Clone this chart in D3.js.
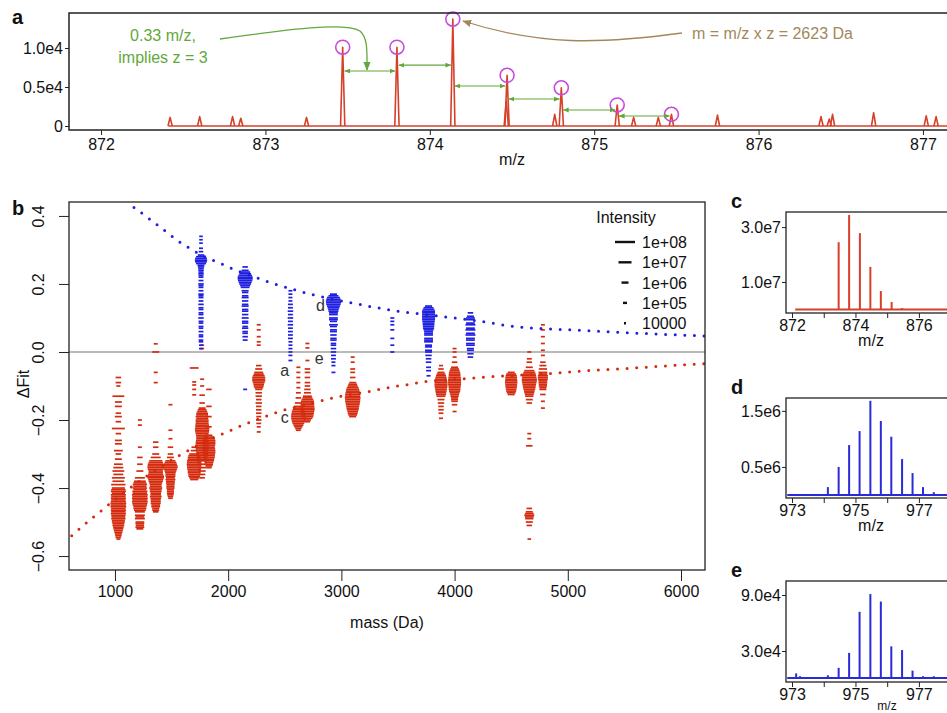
<!DOCTYPE html>
<html><head><meta charset="utf-8">
<script src="https://cdn.jsdelivr.net/npm/d3@7"></script>
<style>body{margin:0;background:#fff}svg{display:block;font-family:"Liberation Sans",Arial,sans-serif}</style>
</head><body><svg id="chart" width="947" height="713"></svg>
<script>
// ---------- Panel a: spectrum peaks [m/z, intensity]
const aPeaks = [[872.42,1100],[872.60,1200],[872.80,1200],[872.85,1000],[873.25,1100],
  [873.47,10100],[873.80,10100],[874.14,13700],[874.465,3200],[874.47,6500],[874.76,1500],[874.80,4900],
  [875.14,2700],[875.24,1100],[875.39,1100],[875.47,1500],[875.75,1400],[876.38,1200],[876.43,900],
  [876.45,1500],[876.70,1700],[877.02,1300],[877.08,1200]];
const aCircled = [[873.47,10100],[873.80,10100],[874.14,13700],[874.47,6500],[874.80,4900],[875.14,2700],[875.47,1500]];
// spacing arrows: [from m/z, to m/z, height]
const aSpacing = [[873.47,873.80,7050],[873.80,874.14,7800],[874.14,874.47,5130],[874.47,874.80,3460],[874.80,875.14,2050],[875.14,875.47,1280]];
const aXTicks = [872,873,874,875,876,877];
const aYTicks = [0,5000,10000];
const aYLabels = ["0","0.5e4","1.0e4"];

// ---------- Panel b: fitted curves [mass, dFit]
const blueFit = [[1168,0.425],[1250,0.405],[1329,0.385],[1409,0.365],[1488,0.344],[1568,0.324],[1650,0.307],[1735,0.290],[1823,0.275],[1918,0.263],[2009,0.249],[2289,0.214],[2383,0.203],[2480,0.193],[2574,0.184],[2671,0.175],[2765,0.167],[3060,0.146],[3162,0.140],[3260,0.133],[3359,0.128],[3456,0.122],[3648,0.114],[4251,0.089],[4545,0.074],[4751,0.069],[5045,0.065],[5340,0.060],[5634,0.055],[6134,0.048],[6212,0.047]];
const redFit = [[618,-0.540],[697,-0.517],[773,-0.495],[853,-0.474],[929,-0.453],[1574,-0.303],[1941,-0.242],[2035,-0.229],[2126,-0.215],[2221,-0.203],[2309,-0.192],[2397,-0.181],[2794,-0.146],[2889,-0.138],[2986,-0.131],[3280,-0.114],[3383,-0.107],[3480,-0.101],[3574,-0.097],[3677,-0.090],[4162,-0.077],[4265,-0.074],[4868,-0.063],[5162,-0.055],[5457,-0.050],[5766,-0.043],[6163,-0.035],[6212,-0.034]];
// clusters: [mass, [[dFit, log10 intensity], ...]]
const redClusters = [
 [1030,[[-0.075,5.5],[-0.09,5.5],[-0.10,5],[-0.13,6.8],[-0.147,6],[-0.16,6],[-0.18,5.5],[-0.19,6],[-0.205,5.5],[-0.225,7],[-0.24,5.5],[-0.26,6],[-0.27,6],[-0.29,6.3],[-0.30,5.5],[-0.315,6],[-0.33,6.3],[-0.34,6.5],[-0.35,6.8],[-0.36,6.5],[-0.37,7],[-0.38,6.8],[-0.39,7.2],[-0.40,7],[-0.405,7.2],[-0.41,7.3],[-0.415,7],[-0.42,7.3],[-0.425,7.2],[-0.43,7.3],[-0.435,7.2],[-0.44,7.3],[-0.445,7.4],[-0.45,7.3],[-0.455,7.4],[-0.46,7.2],[-0.465,7.3],[-0.47,7.2],[-0.475,7.3],[-0.48,7.2],[-0.485,7.1],[-0.49,7.2],[-0.495,7],[-0.50,7],[-0.505,6.8],[-0.51,6.8],[-0.515,6.6],[-0.52,6.5],[-0.525,6.3],[-0.53,6.2],[-0.535,6],[-0.54,5.8],[-0.545,5.5],[-0.55,5]]],
 [1220,[[-0.20,5],[-0.215,5],[-0.28,5],[-0.31,5.5],[-0.33,5.5],[-0.35,6],[-0.37,6.5],[-0.38,6.8],[-0.385,7],[-0.39,7.2],[-0.395,7],[-0.40,7.2],[-0.405,7],[-0.41,7.3],[-0.415,7.2],[-0.42,7.4],[-0.425,7.3],[-0.43,7.4],[-0.435,7.3],[-0.44,7.4],[-0.445,7.3],[-0.45,7.2],[-0.455,7],[-0.46,7],[-0.465,6.8],[-0.47,6.5],[-0.48,6.5],[-0.485,6.3],[-0.49,6.5],[-0.50,6.3],[-0.505,6.3],[-0.51,6.2],[-0.515,6.3],[-0.52,6]]],
 [1360,[[0.024,5],[0.0,6],[-0.06,5],[-0.09,5],[-0.265,5.5],[-0.28,5.5],[-0.30,6],[-0.31,6.5],[-0.32,7],[-0.325,7.2],[-0.33,7.4],[-0.335,7.5],[-0.34,7.5],[-0.345,7.4],[-0.35,7.2],[-0.355,7.2],[-0.36,7.3],[-0.365,7.5],[-0.37,7.5],[-0.375,7.3],[-0.38,7.2],[-0.385,7],[-0.39,6.8],[-0.395,6.8],[-0.40,7],[-0.405,6.8],[-0.41,6.8],[-0.415,6.6],[-0.42,6.6],[-0.425,6.8],[-0.43,6.6],[-0.435,6.5],[-0.44,6.5],[-0.445,6.5],[-0.45,6.3],[-0.455,6.3],[-0.46,6],[-0.465,6],[-0.47,5.5]]],
 [1490,[[-0.155,5],[-0.23,5],[-0.255,5],[-0.28,5.5],[-0.30,5.5],[-0.31,6],[-0.32,6.5],[-0.325,6.8],[-0.33,7],[-0.335,7.2],[-0.34,7.2],[-0.345,7],[-0.35,6.8],[-0.355,6.6],[-0.36,6.5],[-0.365,6.5],[-0.37,6.3],[-0.375,6.5],[-0.38,6.3],[-0.385,6.3],[-0.39,6.2],[-0.395,6.2],[-0.40,6.2],[-0.405,6],[-0.41,6],[-0.415,6],[-0.42,5.8],[-0.425,5.5],[-0.43,5.2]]],
 [1700,[[-0.047,6.3],[-0.088,5],[-0.097,5],[-0.11,5],[-0.126,5],[-0.28,5.5],[-0.29,6],[-0.30,6.5],[-0.305,6.8],[-0.31,7],[-0.315,7],[-0.32,7.2],[-0.325,7.2],[-0.33,7.3],[-0.335,7.2],[-0.34,7.2],[-0.345,7.1],[-0.35,7],[-0.355,7],[-0.36,6.8],[-0.365,6.8],[-0.37,6.5],[-0.375,6.2]]],
 [1770,[[0.02,5],[0.01,5],[-0.08,5],[-0.10,5],[-0.127,5.5],[-0.15,5.5],[-0.165,6],[-0.17,6.3],[-0.175,6.5],[-0.18,6.8],[-0.185,6.8],[-0.19,7],[-0.195,6.8],[-0.20,7],[-0.205,7],[-0.21,7],[-0.215,7.1],[-0.22,7.1],[-0.225,7.2],[-0.23,7.2],[-0.235,7.1],[-0.24,7],[-0.245,6.9],[-0.25,6.8],[-0.255,6.8],[-0.26,6.9],[-0.265,7],[-0.27,7],[-0.275,7.1],[-0.28,7.1],[-0.285,7],[-0.29,6.9],[-0.295,6.8],[-0.30,6.8],[-0.305,6.7],[-0.31,6.6],[-0.315,6.5],[-0.32,6.5],[-0.33,6.3],[-0.34,6.2],[-0.35,6],[-0.36,5.8],[-0.37,5.5]]],
 [1830,[[-0.11,5.5],[-0.16,5.5],[-0.19,5.5],[-0.22,5.5],[-0.245,6],[-0.25,6.5],[-0.255,6.8],[-0.26,7],[-0.265,7],[-0.27,7],[-0.275,6.9],[-0.28,6.8],[-0.285,6.9],[-0.29,7],[-0.295,7],[-0.30,6.9],[-0.305,6.8],[-0.31,6.8],[-0.315,6.6],[-0.32,6.5],[-0.325,6.3],[-0.33,6.2],[-0.335,6],[-0.34,5.5]]],
 [2270,[[0.08,5],[0.065,5],[0.045,5],[0.03,5],[0.02,5],[-0.04,5.5],[-0.05,6],[-0.06,6.3],[-0.065,6.5],[-0.07,6.8],[-0.075,7],[-0.08,7],[-0.085,7],[-0.09,6.8],[-0.095,6.6],[-0.10,6.5],[-0.105,6.3],[-0.11,6],[-0.12,5.8],[-0.13,5.8],[-0.14,5.5],[-0.15,5.8],[-0.16,5.5],[-0.17,5.5],[-0.18,5.5],[-0.19,5.3],[-0.20,5.5],[-0.21,5.3],[-0.22,5],[-0.235,5]]],
 [2620,[[-0.045,5],[-0.06,5],[-0.075,5],[-0.09,5],[-0.105,5],[-0.12,5.3],[-0.135,5.5],[-0.15,6],[-0.16,6.3],[-0.165,6.5],[-0.17,6.8],[-0.175,7],[-0.18,7.1],[-0.185,7.2],[-0.19,7.2],[-0.195,7.2],[-0.20,7.1],[-0.205,7],[-0.21,6.8],[-0.215,6.5],[-0.22,6.2],[-0.225,5.8],[-0.23,5.3]]],
 [2700,[[0.025,5],[0.012,5],[-0.025,5],[-0.05,5.5],[-0.06,5.5],[-0.075,5.5],[-0.09,5.5],[-0.10,5.5],[-0.11,5.8],[-0.12,6],[-0.13,6.3],[-0.135,6.5],[-0.14,6.8],[-0.145,7],[-0.15,7],[-0.155,7.1],[-0.16,7.1],[-0.165,7.2],[-0.17,7.2],[-0.175,7.1],[-0.18,7],[-0.185,6.9],[-0.19,6.8],[-0.195,6.5],[-0.20,6],[-0.205,5.5]]],
 [3100,[[-0.015,5],[-0.03,5],[-0.05,5.3],[-0.06,5.3],[-0.075,5.5],[-0.09,6],[-0.095,6.3],[-0.10,6.5],[-0.105,6.8],[-0.11,7],[-0.115,7.1],[-0.12,7.2],[-0.125,7.3],[-0.13,7.3],[-0.135,7.4],[-0.14,7.3],[-0.145,7.3],[-0.15,7.2],[-0.155,7.1],[-0.16,7],[-0.165,6.9],[-0.17,6.8],[-0.175,6.6],[-0.18,6.5],[-0.185,6.3],[-0.19,6]]],
 [3880,[[-0.04,5],[-0.05,5.5],[-0.06,6],[-0.065,6.3],[-0.07,6.5],[-0.075,6.7],[-0.08,6.8],[-0.085,6.9],[-0.09,7],[-0.095,7],[-0.10,7],[-0.105,6.9],[-0.11,6.8],[-0.115,6.7],[-0.12,6.6],[-0.125,6.5],[-0.13,6.3],[-0.14,6],[-0.15,5.8],[-0.16,5.5],[-0.17,5.5],[-0.18,5.3],[-0.195,5]]],
 [4000,[[0.01,5],[0.0,5],[-0.015,5],[-0.03,5.5],[-0.045,6],[-0.05,6.3],[-0.055,6.5],[-0.06,6.7],[-0.065,6.8],[-0.07,6.8],[-0.075,6.9],[-0.08,7],[-0.085,7],[-0.09,7],[-0.095,7],[-0.10,6.9],[-0.105,6.8],[-0.11,6.8],[-0.115,6.7],[-0.12,6.5],[-0.125,6.3],[-0.13,6.2],[-0.135,6],[-0.14,6],[-0.145,5.8],[-0.155,5.5],[-0.175,5]]],
 [4500,[[-0.06,6],[-0.065,6.5],[-0.07,6.7],[-0.075,6.8],[-0.08,6.8],[-0.085,6.9],[-0.09,6.9],[-0.095,6.8],[-0.10,6.8],[-0.105,6.7],[-0.11,6.6],[-0.115,6.5],[-0.12,6.3],[-0.125,6]]],
 [4660,[[0.0,5],[-0.02,5.3],[-0.03,5.5],[-0.045,6],[-0.055,6.5],[-0.06,6.8],[-0.065,7],[-0.07,7.1],[-0.075,7.2],[-0.08,7.3],[-0.085,7.3],[-0.09,7.2],[-0.095,7.1],[-0.10,7],[-0.105,6.9],[-0.11,6.8],[-0.115,6.6],[-0.12,6.5],[-0.125,6.3],[-0.13,6.2],[-0.14,6],[-0.15,5.5],[-0.24,5],[-0.255,5],[-0.276,5.8],[-0.46,5.5],[-0.47,6],[-0.475,6.3],[-0.48,6.5],[-0.485,6.3],[-0.49,6.2],[-0.50,6],[-0.51,5.5],[-0.55,4.8]]],
 [4780,[[0.08,5],[0.065,5],[0.045,5],[0.025,5],[0.005,5],[-0.01,5],[-0.03,5.5],[-0.04,6],[-0.05,6.2],[-0.06,6.3],[-0.065,6.3],[-0.07,6.5],[-0.075,6.5],[-0.08,6.5],[-0.085,6.3],[-0.09,6.3],[-0.095,6.2],[-0.10,6.2],[-0.105,6],[-0.11,6],[-0.125,5.5],[-0.145,5],[-0.165,5]]]
];
const blueClusters = [
 [1760,[[0.34,4.8],[0.33,4.8],[0.32,4.8],[0.305,5],[0.295,5.2],[0.285,5.8],[0.28,6.5],[0.275,6.8],[0.27,6.9],[0.265,6.8],[0.26,6.5],[0.255,6],[0.25,5.8],[0.245,5.5],[0.24,5.5],[0.235,5.3],[0.23,5.5],[0.225,5.3],[0.22,5.3],[0.21,5.3],[0.20,5.5],[0.195,5.3],[0.19,5.3],[0.18,5.3],[0.17,5.5],[0.165,5.3],[0.16,5.3],[0.15,5.3],[0.14,5.5],[0.13,5.3],[0.125,5.3],[0.115,5.3],[0.11,5.3],[0.10,5.5],[0.09,5.3],[0.085,5.2],[0.075,5.3],[0.07,5.2],[0.06,5.3],[0.05,5.2],[0.045,5.2],[0.035,5.2],[0.03,5.2],[0.02,5],[0.01,5]]],
 [2150,[[0.25,5.5],[0.24,6],[0.235,6.5],[0.23,6.8],[0.225,7.1],[0.22,7.3],[0.215,7.3],[0.21,7.2],[0.205,7],[0.20,6.8],[0.195,6.5],[0.19,6.3],[0.18,6],[0.175,5.8],[0.165,5.8],[0.16,6],[0.15,5.8],[0.14,5.8],[0.135,6],[0.125,5.8],[0.12,5.8],[0.11,5.8],[0.10,6],[0.09,5.8],[0.085,5.8],[0.075,5.5],[0.07,5.8],[0.06,5.5],[0.055,5.5],[0.045,5.5],[0.035,5.3],[-0.11,5]]],
 [2550,[[0.18,5],[0.17,5],[0.16,5],[0.15,5],[0.14,5.3],[0.13,5.3],[0.12,5.5],[0.11,5.3],[0.10,5.5],[0.09,5.3],[0.08,5.5],[0.07,5.3],[0.06,5.3],[0.05,5.3],[0.04,5.3],[0.03,5],[0.02,5],[0.01,5],[0.0,5],[-0.01,5],[-0.025,5]]],
 [2930,[[0.17,6],[0.165,6.5],[0.16,7],[0.155,7.2],[0.15,7.3],[0.145,7.3],[0.14,7.2],[0.135,7],[0.13,6.8],[0.125,6.6],[0.12,6.5],[0.115,6.3],[0.11,6.3],[0.10,6.3],[0.095,6.3],[0.09,6],[0.08,6.3],[0.075,6],[0.065,6],[0.06,6],[0.05,5.8],[0.04,5.8],[0.035,5.8],[0.025,5.5],[0.02,5.5],[0.01,5.5],[0.0,5.5],[-0.01,5.3],[-0.02,5.3],[-0.03,5],[-0.04,5],[-0.06,5]]],
 [3450,[[0.10,5],[0.09,5],[0.08,5],[0.065,5],[0.04,5],[0.02,5],[0.0,5]]],
 [3770,[[0.135,6],[0.13,6.5],[0.125,6.8],[0.12,7],[0.115,7],[0.11,7],[0.105,7],[0.10,7],[0.095,7],[0.09,6.9],[0.085,6.8],[0.08,6.8],[0.075,6.7],[0.07,6.7],[0.065,6.5],[0.06,6.3],[0.055,6.3],[0.05,6.3],[0.04,6.3],[0.035,6.3],[0.03,6.3],[0.02,6],[0.015,6],[0.005,6],[0.0,6],[-0.01,5.8],[-0.02,5.5],[-0.03,5.5],[-0.045,5.3],[-0.055,5.3],[-0.07,5]]],
 [4140,[[0.115,5.5],[0.105,6],[0.10,6.3],[0.095,6.3],[0.085,6.3],[0.08,6.5],[0.07,6.3],[0.065,6.5],[0.055,6.3],[0.05,6.5],[0.04,6.3],[0.035,6.3],[0.025,6.3],[0.02,6.3],[0.01,6],[0.005,6],[-0.005,5.8],[-0.015,5.5]]]
];
const bXTicks = [1000,2000,3000,4000,5000,6000];
const bYTicks = [-0.6,-0.4,-0.2,0.0,0.2,0.4];
const bYLabels = ["\u22120.6","\u22120.4","\u22120.2","0.0","0.2","0.4"];
const legendLevels = [8,7,6,5,4];
const legendLabels = ["1e+08","1e+07","1e+06","1e+05","10000"];
const bNotes = [["d",2815,0.135],["e",2805,-0.02],["a",2500,-0.055],["c",2500,-0.195]];

// ---------- Panels c, d, e: stick spectra [m/z, intensity]
const cPeaks = [[873.47,2.45e7],[873.80,3.44e7],[874.14,2.78e7],[874.47,1.55e7],[874.80,0.67e7],[875.14,0.27e7],[875.47,0.05e7]];
const dPeaks = [[974.13,0.14e6],[974.47,0.50e6],[974.80,0.89e6],[975.13,1.14e6],[975.47,1.68e6],[975.80,1.32e6],[976.13,1.04e6],[976.47,0.64e6],[976.80,0.39e6],[977.13,0.14e6],[977.47,0.05e6]];
const ePeaks = [[973.13,0.6e4],[973.25,0.3e4],[973.80,0.2e4],[974.13,0.4e4],[974.47,1.2e4],[974.80,2.8e4],[975.13,7.2e4],[975.47,9.1e4],[975.80,8.3e4],[976.13,3.5e4],[976.47,3.1e4],[976.80,0.9e4],[977.13,0.3e4],[977.47,0.3e4],[977.80,0.2e4]];
const cXTicks = [872,873,874,875,876,877], cXLabels = ["872","","874","","876",""];
const deXTicks = [973,974,975,976,977,978], deXLabels = ["973","","975","","977",""];
const cYTicks = [1e7,3e7], cYLabels = ["1.0e7","3.0e7"];
const dYTicks = [0.5e6,1.5e6], dYLabels = ["0.5e6","1.5e6"];
const eYTicks = [3e4,9e4], eYLabels = ["3.0e4","9.0e4"];

// ---------- drawing
const RED = "#d42b0e", BLUE = "#1f1fe0", SPEC_RED = "#d6402a", SPEC_BLUE = "#2a2ad8";
const GREEN = "#63a83b", BROWN = "#a3875a", MAG = "#c84ae0";
const svg = d3.select("#chart");
const FS = 16;
const defs = svg.append("defs");
function marker(id, color, size){
  defs.append("marker").attr("id",id).attr("viewBox","0 0 10 10").attr("refX",9).attr("refY",5)
    .attr("markerWidth",size).attr("markerHeight",size).attr("orient","auto-start-reverse")
    .append("path").attr("d","M0,1 L10,5 L0,9 z").attr("fill",color);
}
marker("gArr", GREEN, 5); marker("gArrBig", GREEN, 7); marker("bArr", BROWN, 7);

function styleAxis(g){ g.select(".domain").remove(); g.selectAll("line").attr("stroke","#222"); g.selectAll("text").attr("font-size",FS).attr("fill","#111").attr("font-family","Liberation Sans, Arial, sans-serif"); }
function frame(x0,y0,x1,y1,w){ svg.append("rect").attr("x",x0).attr("y",y0).attr("width",x1-x0).attr("height",y1-y0).attr("fill","none").attr("stroke","#222").attr("stroke-width",w||1.3); }
function panelLetter(t,x,y){ svg.append("text").attr("x",x).attr("y",y).attr("font-size",20).attr("font-weight","bold").attr("fill","#111").text(t); }

// ===== Panel a
const xA = d3.scaleLinear([871.805,877.195],[69,955]);
const yA = d3.scaleLinear([-513,14487],[130,13]);
const gA = svg.append("g");
gA.append("line").attr("x1",xA(872.41)).attr("x2",955).attr("y1",yA(0)).attr("y2",yA(0)).attr("stroke",SPEC_RED).attr("stroke-width",1.5);
gA.selectAll("path.pk").data(aPeaks).join("path").attr("class","pk")
  .attr("d",d=>`M${xA(d[0]-0.013)},${yA(0)} L${xA(d[0])},${yA(d[1])} L${xA(d[0]+0.013)},${yA(0)}`)
  .attr("fill","none").attr("stroke",SPEC_RED).attr("stroke-width",1.6).attr("stroke-linejoin","round");
gA.selectAll("circle").data(aCircled).join("circle").attr("cx",d=>xA(d[0])).attr("cy",d=>yA(d[1])).attr("r",7)
  .attr("fill","none").attr("stroke",MAG).attr("stroke-width",1.6);
gA.selectAll("line.sp").data(aSpacing).join("line").attr("class","sp")
  .attr("x1",d=>xA(d[0])+2).attr("x2",d=>xA(d[1])-2).attr("y1",d=>yA(d[2])).attr("y2",d=>yA(d[2]))
  .attr("stroke",GREEN).attr("stroke-width",1.2).attr("marker-start","url(#gArr)").attr("marker-end","url(#gArr)");
svg.append("g").attr("transform","translate(69,0)").call(d3.axisLeft(yA).tickValues(aYTicks).tickFormat((d,i)=>aYLabels[i]).tickSize(4).tickPadding(2)).call(styleAxis);
svg.append("g").attr("transform","translate(0,130)").call(d3.axisBottom(xA).tickValues(aXTicks).tickFormat(d3.format("d")).tickSize(5).tickPadding(4)).call(styleAxis);
frame(69,13,955,130,1.5);
svg.append("text").attr("x",512).attr("y",165).attr("text-anchor","middle").attr("font-size",FS).attr("fill","#111").text("m/z");
// annotations
svg.append("text").attr("x",163).attr("y",41).attr("text-anchor","middle").attr("font-size",FS).attr("fill",GREEN).text("0.33 m/z,");
svg.append("text").attr("x",163).attr("y",63).attr("text-anchor","middle").attr("font-size",FS).attr("fill",GREEN).text("implies z = 3");
svg.append("path").attr("d","M220,39 C290,29 345,22 360,31 C368,38 367,52 367,70").attr("fill","none").attr("stroke",GREEN).attr("stroke-width",1.3).attr("marker-end","url(#gArrBig)");
svg.append("text").attr("x",692).attr("y",39).attr("font-size",FS).attr("fill",BROWN).text("m = m/z x z = 2623 Da");
svg.append("path").attr("d","M682,33 C600,44 540,46 463,21").attr("fill","none").attr("stroke",BROWN).attr("stroke-width",1.3).attr("marker-end","url(#bArr)");
panelLetter("a",12,24);

// ===== Panel b
const xB = d3.scaleLinear([594,6212],[69,705]);
const yB = d3.scaleLinear([-0.641,0.441],[570,202]);
const wScale = d3.scaleLinear([4,5,6,7,8],[2,4,7,13,20]);
svg.append("defs").append("clipPath").attr("id","clipB").append("rect").attr("x",69).attr("y",202).attr("width",636).attr("height",368);
const gB = svg.append("g").attr("clip-path","url(#clipB)");
gB.append("line").attr("x1",69).attr("x2",705).attr("y1",yB(0)).attr("y2",yB(0)).attr("stroke","#777").attr("stroke-width",1.2);
function drawClusters(data,color){
  const pts = data.flatMap(c=>c[1].map(p=>({m:c[0],v:p[0],l:p[1]})));
  gB.append("g").selectAll("line").data(pts).join("line")
    .attr("x1",d=>xB(d.m)-wScale(d.l)/2).attr("x2",d=>xB(d.m)+wScale(d.l)/2)
    .attr("y1",d=>yB(d.v)).attr("y2",d=>yB(d.v)).attr("stroke",color).attr("stroke-width",1.7);
}
drawClusters(redClusters,RED);
drawClusters(blueClusters,BLUE);
const lineB = d3.line().x(d=>xB(d[0])).y(d=>yB(d[1])).curve(d3.curveMonotoneX);
gB.append("path").attr("d",lineB(blueFit)).attr("fill","none").attr("stroke",BLUE).attr("stroke-width",3).attr("stroke-linecap","round").attr("stroke-dasharray","0,9.6");
gB.append("path").attr("d",lineB(redFit)).attr("fill","none").attr("stroke",RED).attr("stroke-width",3).attr("stroke-linecap","round").attr("stroke-dasharray","0,9.6");
svg.append("g").selectAll("text").data(bNotes).join("text").attr("x",d=>xB(d[1])).attr("y",d=>yB(d[2])+5).attr("text-anchor","middle").attr("font-size",FS).attr("fill","#333").text(d=>d[0]);
const axBY = svg.append("g").attr("transform","translate(69,0)").call(d3.axisLeft(yB).tickValues(bYTicks).tickFormat((d,i)=>bYLabels[i]).tickSize(10)).call(styleAxis);
axBY.selectAll("text").attr("x",null).attr("dy",null).attr("text-anchor","middle").attr("transform","translate(-25,0) rotate(-90)");
svg.append("g").attr("transform","translate(0,570)").call(d3.axisBottom(xB).tickValues(bXTicks).tickFormat(d3.format("d")).tickSize(11).tickPadding(5)).call(styleAxis);
frame(69,202,705,570,1.3);
svg.append("text").attr("x",387).attr("y",628).attr("text-anchor","middle").attr("font-size",FS).attr("fill","#111").text("mass (Da)");
svg.append("text").attr("transform","translate(29,384) rotate(-90)").attr("text-anchor","middle").attr("font-size",FS).attr("fill","#111").text("\u0394Fit");
// legend
svg.append("text").attr("x",626).attr("y",223).attr("text-anchor","middle").attr("font-size",FS).attr("fill","#111").text("Intensity");
const lg = svg.append("g").selectAll("g").data(legendLevels).join("g").attr("transform",(d,i)=>`translate(0,${242+i*20.3})`);
lg.append("line").attr("x1",d=>625-wScale(d)/2).attr("x2",d=>625+wScale(d)/2).attr("stroke","#111").attr("stroke-width",2.4);
lg.append("text").attr("x",642).attr("y",6).attr("font-size",FS).attr("fill","#111").text((d,i)=>legendLabels[i]);
panelLetter("b",12,215);

// ===== Panels c, d, e
function stickPanel(top,bottom,xDom,yDom,peaks,color,xt,xl,yt,yl,letter,baseFrom,baseY,mzX,mzY,mzSize){
  const x = d3.scaleLinear(xDom,[786,956]);
  const y = d3.scaleLinear(yDom,[bottom,top]);
  const g = svg.append("g");
  g.append("line").attr("x1",x(baseFrom)).attr("x2",956).attr("y1",y(baseY)).attr("y2",y(baseY)).attr("stroke",color).attr("stroke-width",2);
  g.selectAll("line.st").data(peaks).join("line").attr("class","st").attr("x1",d=>x(d[0])).attr("x2",d=>x(d[0]))
    .attr("y1",y(baseY)).attr("y2",d=>y(d[1])).attr("stroke",color).attr("stroke-width",2);
  svg.append("g").attr("transform","translate(786,0)").call(d3.axisLeft(y).tickValues(yt).tickFormat((d,i)=>yl[i]).tickSize(4).tickPadding(1)).call(styleAxis);
  svg.append("g").attr("transform",`translate(0,${bottom})`).call(d3.axisBottom(x).tickValues(xt).tickFormat((d,i)=>xl[i]).tickSize(5).tickPadding(2)).call(styleAxis);
  frame(786,top,956,bottom,1.3);
  svg.append("text").attr("x",mzX).attr("y",mzY).attr("text-anchor","middle").attr("font-size",mzSize).attr("fill","#111").text("m/z");
  panelLetter(letter,731,top-4);
}
stickPanel(212,313,[871.81,877.17],[-0.13e7,3.55e7],cPeaks,SPEC_RED,cXTicks,cXLabels,cYTicks,cYLabels,"c",872.1,0,871,346,FS);
stickPanel(398,498,[972.81,978.17],[-0.054e6,1.73e6],dPeaks,SPEC_BLUE,deXTicks,deXLabels,dYTicks,dYLabels,"d",972.85,0,871,531,FS);
stickPanel(581,682,[972.81,978.17],[-0.32e4,10.5e4],ePeaks,SPEC_BLUE,deXTicks,deXLabels,eYTicks,eYLabels,"e",972.85,0.1e4,887,710,12);
</script></body></html>
